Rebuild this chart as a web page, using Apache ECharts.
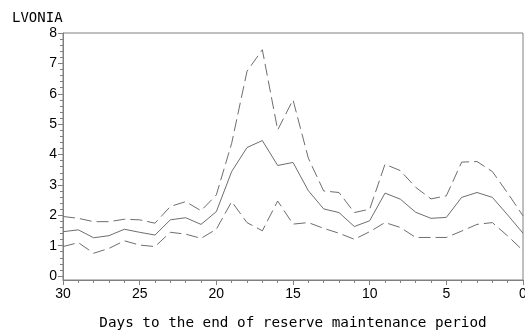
<!DOCTYPE html>
<html>
<head>
<meta charset="utf-8">
<script src="https://cdn.jsdelivr.net/npm/echarts@6/dist/echarts.min.js"></script>
<style>
  html, body { margin: 0; padding: 0; background: #fff; }
  #chart { width: 525px; height: 333px; }
</style>
</head>
<body>
<div id="chart"></div>
<script>
// days to the end of the reserve maintenance period, 30 down to 0
const days = [30, 29, 28, 27, 26, 25, 24, 23, 22, 21, 20, 19, 18, 17, 16, 15,
              14, 13, 12, 11, 10, 9, 8, 7, 6, 5, 4, 3, 2, 1, 0];

// middle estimate (solid)
const mean = [1.46, 1.52, 1.26, 1.33, 1.54, 1.44, 1.35, 1.85, 1.92, 1.70, 2.12, 3.44, 4.23, 4.46, 3.64, 3.74,
              2.81, 2.21, 2.09, 1.63, 1.82, 2.73, 2.53, 2.10, 1.90, 1.93, 2.59, 2.75, 2.59, 2.01, 1.41];

// upper band (dashed)
const upper = [1.96, 1.90, 1.79, 1.79, 1.87, 1.85, 1.74, 2.29, 2.45, 2.15, 2.67, 4.37, 6.74, 7.45, 4.81, 5.80,
               3.88, 2.80, 2.75, 2.09, 2.20, 3.68, 3.47, 2.92, 2.54, 2.64, 3.75, 3.77, 3.44, 2.73, 1.98];

// lower band (dashed)
const lower = [0.97, 1.10, 0.75, 0.91, 1.16, 1.02, 0.97, 1.44, 1.38, 1.24, 1.54, 2.45, 1.76, 1.49, 2.47, 1.71,
               1.76, 1.57, 1.41, 1.21, 1.46, 1.76, 1.60, 1.27, 1.27, 1.27, 1.48, 1.70, 1.76, 1.32, 0.84];

const yMajor = [0, 1, 2, 3, 4, 5, 6, 7, 8];
const yMinor = [];
for (let v = 0; v <= 8.0001; v += 0.2) yMinor.push(Math.round(v * 10) / 10);

const axisGray = "#808080";
const lineGray = "#6e6e6e";
const mono = "DejaVu Sans Mono";
const sans = "Liberation Sans";

const chart = echarts.init(document.getElementById("chart"), null, { renderer: "canvas" });

const pairs = (vals) => days.map((d, i) => [d, vals[i]]);

const lineSeries = (name, vals, type) => ({
    name: name,
    type: "line",
    data: pairs(vals),
    symbol: "none",
    silent: true,
    animation: false,
    lineStyle: { color: lineGray, width: 1, type: type },
});

chart.setOption({
    backgroundColor: "#fff",
    animation: false,
    title: {
        text: "LVONIA",
        left: 7,
        top: 6,
        textStyle: { fontFamily: mono, fontSize: 14, fontWeight: "normal", color: "#000" },
    },
    grid: {
        left: 63, right: 2, top: 33, bottom: 53,
        outerBoundsMode: "none", containLabel: false,
        show: true, borderColor: axisGray, borderWidth: 1, backgroundColor: "transparent",
    },
    xAxis: {
        type: "value",
        inverse: true,
        min: 0,
        max: 30,
        interval: 5,
        name: "Days to the end of reserve maintenance period",
        nameLocation: "middle",
        nameGap: 36,
        nameTextStyle: { fontFamily: mono, fontSize: 14.3, color: "#000" },
        axisLine: { onZero: false, lineStyle: { color: axisGray } },
        axisTick: { length: 5, lineStyle: { color: axisGray } },
        minorTick: { show: true, splitNumber: 5, length: 3, lineStyle: { color: axisGray } },
        axisLabel: { fontFamily: sans, fontSize: 14, color: "#000", margin: 7, hideOverlap: false },
        splitLine: { show: false },
    },
    yAxis: [
        {
            type: "value",
            min: -0.13,
            max: 8,
            axisLine: { show: true, onZero: false, lineStyle: { color: axisGray } },
            axisTick: { show: true, length: 5, customValues: yMajor, lineStyle: { color: axisGray } },
            axisLabel: { customValues: yMajor, fontFamily: sans, fontSize: 14, color: "#000", margin: 6 },
            splitLine: { show: false },
        },
        {
            // minor ticks on the left
            type: "value",
            min: -0.13,
            max: 8,
            position: "left",
            axisLine: { show: false, onZero: false },
            axisTick: { show: true, length: 3, customValues: yMinor, lineStyle: { color: axisGray } },
            axisLabel: { show: false },
            splitLine: { show: false },
        },
    ],
    series: [
        lineSeries("upper", upper, [12, 5]),
        lineSeries("mean", mean, "solid"),
        lineSeries("lower", lower, [12, 5]),
    ],
});
</script>
</body>
</html>
